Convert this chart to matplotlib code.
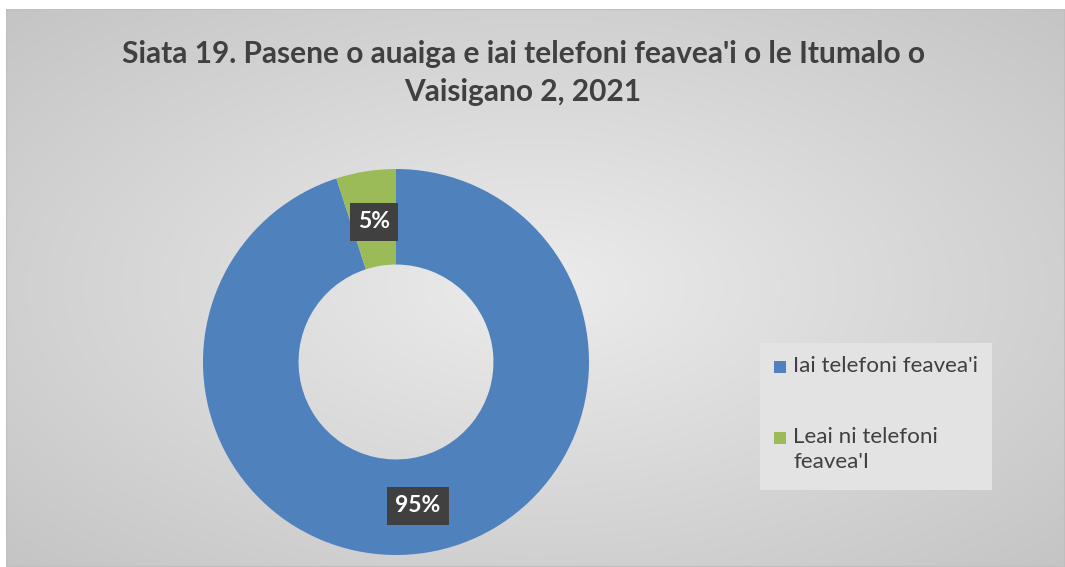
import numpy as np
import matplotlib
matplotlib.use("Agg")
import matplotlib.pyplot as plt
from matplotlib.patches import Rectangle

categories = ["Iai telefoni feavea'i", "Leai ni telefoni\nfeavea'I"]
values = [95, 5]
labels = ["95%", "5%"]
colors = ["#4f81bd", "#9bbb59"]
title = "Siata 19. Pasene o auaiga e iai telefoni feavea'i o le Itumalo o\nVaisigano 2, 2021"

W, H = 1065, 567
fig = plt.figure(figsize=(W / 100, H / 100), dpi=100)
fig.patch.set_facecolor("white")

# background with radial gradient
bg = fig.add_axes([6 / W, 0, (W - 6) / W, (H - 9) / H])
ny, nx = 300, 560
yy, xx = np.mgrid[0:ny, 0:nx]
cx, cy = nx * 0.5, ny * 0.5
r = np.sqrt(((xx - cx) / (nx * 0.5)) ** 2 + ((yy - cy) / (ny * 0.5)) ** 2) / np.sqrt(2)
r = np.clip(r, 0, 1)
top = np.array([0.925, 0.925, 0.925])
edge = np.array([0.77, 0.77, 0.77])
img = top[None, None, :] * (1 - r[..., None]) + edge[None, None, :] * r[..., None]
bg.imshow(img, aspect="auto", extent=[0, 1, 0, 1], origin="lower")
bg.set_xlim(0, 1)
bg.set_ylim(0, 1)
bg.axis("off")
bg.add_patch(Rectangle((0, 0), 1, 1, fill=False, edgecolor="#bfbfbf", lw=1.5,
                       transform=bg.transAxes))

# donut
cxp, cyp, R = 396, 362, 193
ax = fig.add_axes([(cxp - R) / W, (H - cyp - R) / H, 2 * R / W, 2 * R / H])
ax.set_aspect("equal")
wedges, _ = ax.pie(values, colors=colors, startangle=90, counterclock=False,
                   radius=1.0, wedgeprops=dict(width=0.495, edgecolor="none"))
ax.set_xlim(-1, 1)
ax.set_ylim(-1, 1)
ax.axis("off")

# data labels
label_pos = [(418, 506), (374, 222)]
for lab, (px, py) in zip(labels, label_pos):
    fig.text(px / W, 1 - py / H, lab, ha="center", va="center", fontsize=16.5,
             fontweight="bold", color="white", family="Lato",
             bbox=dict(boxstyle="square,pad=0.35", facecolor="#404040",
                       edgecolor="none"))

# title
fig.text(523 / W, 1 - 73 / H, title, ha="center", va="center", fontsize=21.5,
         fontweight="bold", color="#404040", family="Lato", linespacing=1.45)

# legend
lg = fig.add_axes([760 / W, (H - 490) / H, 232 / W, 147 / H])
lg.set_xlim(0, 232)
lg.set_ylim(147, 0)
lg.add_patch(Rectangle((0, 0), 232, 147, facecolor="#e3e3e3", edgecolor="none"))
lg.axis("off")
items_y = [24, 95]
for c, name, y in zip(colors, categories, items_y):
    lg.add_patch(Rectangle((14, y - 6), 12, 12, facecolor=c, edgecolor="none"))
    lg.text(33, y - 11, name, ha="left", va="top", fontsize=16.1, color="#404040",
            family="Lato", linespacing=1.3)

fig.savefig("out.png", dpi=100, facecolor=fig.get_facecolor())
